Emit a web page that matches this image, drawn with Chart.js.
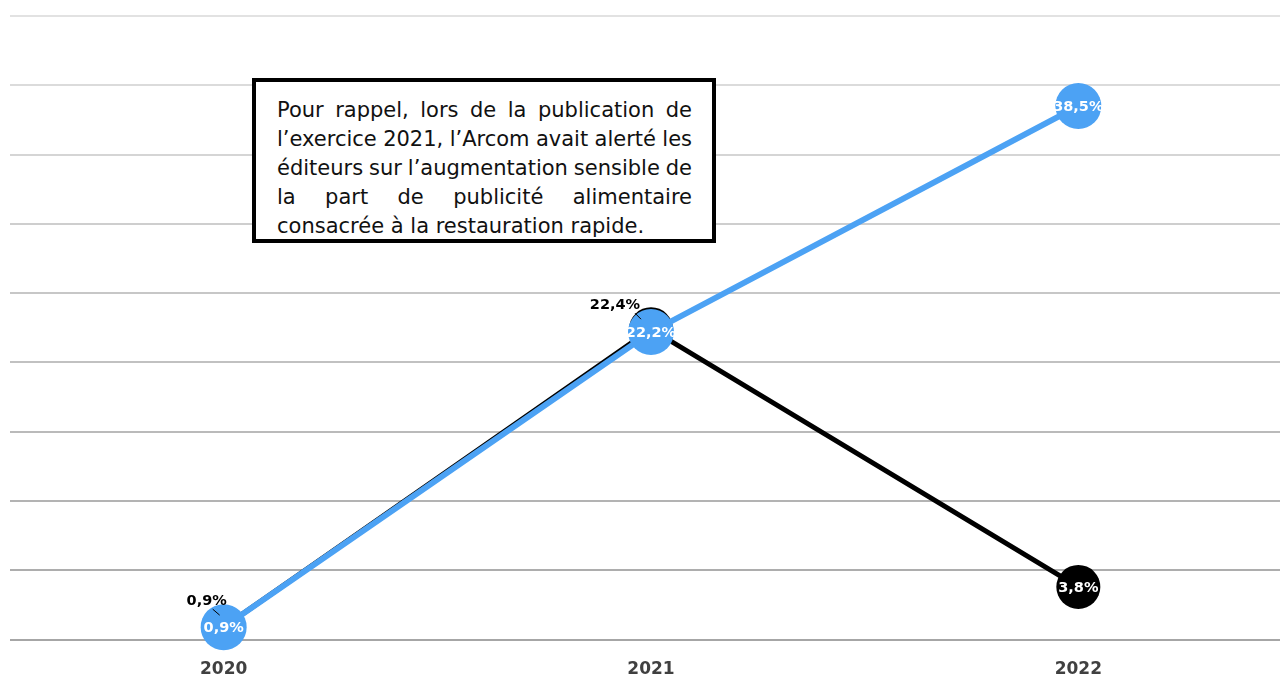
<!DOCTYPE html>
<html lang="fr">
<head>
<meta charset="utf-8">
<script src="https://cdn.jsdelivr.net/npm/chart.js@4/dist/chart.umd.min.js"></script>
<style>
html, body { margin: 0; padding: 0; background: #fff; overflow: hidden; }
#wrap { position: relative; width: 1292px; height: 678px; }
#chart { display: block; }
#note {
  position: absolute; left: 252px; top: 78px; width: 464px; height: 165px;
  box-sizing: border-box; border: 4px solid #000; background: #fff;
  padding: 14px 20px 0 21px;
  font-family: "DejaVu Sans", Verdana, sans-serif; font-size: 21px; line-height: 29px; color: #111;
  word-spacing: -4px;
}
#note span { display: block; white-space: nowrap; text-align: justify; text-align-last: justify; }
#note span.last { text-align-last: left; word-spacing: 0; }
</style>
</head>
<body>
<div id="wrap">
  <canvas id="chart" width="1292" height="678"></canvas>
  <div id="note">
    <span>Pour rappel, lors de la publication de</span>
    <span>l’exercice 2021, l’Arcom avait alerté les</span>
    <span>éditeurs sur l’augmentation sensible de</span>
    <span>la part de publicité alimentaire</span>
    <span class="last">consacrée à la restauration rapide.</span>
  </div>
</div>
<script>
/* =========================
   Données
========================= */

const years = ["2020", "2021", "2022"];
const serieNoire = [0.9, 22.4, 3.8];
const serieBleue = [0.9, 22.2, 38.5];
const yTicks = [0, 5, 10, 15, 20, 25, 30, 35, 40, 45];

const BLEU = "#4ca2f4";
const NOIR = "#000000";

function fmt(v){
  return v.toFixed(1).replace(".", ",") + "%";
}

/* étiquettes des points (dessinées à la main, pas de plugin datalabels) */
const pointLabels = {
  id: "pointLabels",
  afterDatasetsDraw(chart){
    const ctx = chart.ctx;
    ctx.save();
    ctx.textAlign = "center";
    ctx.textBaseline = "middle";
    // noire d'abord, bleue par-dessus
    [1, 0].forEach(di => {
      const ds = chart.data.datasets[di];
      const meta = chart.getDatasetMeta(di);
      meta.data.forEach((pt, i) => {
        const txt = fmt(ds.data[i]);
        const out = ds.outside ? ds.outside[i] : null;
        ctx.font = "bold 14.5px 'DejaVu Sans', sans-serif";
        if(out){
          const lx = pt.x + out[0], ly = pt.y + out[1];
          ctx.strokeStyle = "#000";
          ctx.lineWidth = 1;
          ctx.beginPath();
          ctx.moveTo(lx + out[2], ly + 8);
          ctx.lineTo(pt.x + out[3], pt.y + out[4]);
          ctx.stroke();
          ctx.fillStyle = "#000";
          ctx.fillText(txt, lx, ly);
        } else {
          ctx.fillStyle = "#fff";
          ctx.fillText(txt, pt.x, pt.y + 1);
        }
      });
    });
    ctx.restore();
  }
};

/* couleur des lignes de grille : plus claire en haut */
function gridColor(c){
  const t = c.index / (yTicks.length - 1);
  const g = Math.round(166 + (226 - 166) * t);
  return `rgb(${g},${g},${g})`;
}

new Chart(document.getElementById("chart"), {
  type: "line",
  data: {
    labels: years,
    datasets: [
      {
        label: "bleue",
        data: serieBleue,
        borderColor: BLEU,
        backgroundColor: BLEU,
        borderWidth: 6,
        pointRadius: 23,
        pointBorderWidth: 0,
        pointBackgroundColor: BLEU,
        tension: 0,
        clip: false,
        order: 0
      },
      {
        label: "noire",
        data: serieNoire,
        borderColor: NOIR,
        backgroundColor: NOIR,
        borderWidth: 5,
        pointRadius: 22,
        pointBorderWidth: 0,
        pointBackgroundColor: NOIR,
        tension: 0,
        clip: false,
        order: 1,
        // [dx, dy, départ trait x, arrivée trait dx, dy]
        outside: [[-17, -26, 6, -4, -12], [-36, -24, 20, -10, -10], null]
      }
    ]
  },
  options: {
    responsive: false,
    animation: false,
    devicePixelRatio: 1,
    layout: { autoPadding: false, padding: { left: 10, right: 0, top: 16, bottom: -22 } },
    plugins: {
      legend: { display: false },
      tooltip: { enabled: false }
    },
    scales: {
      x: {
        offset: true,
        grid: { display: false, drawTicks: false },
        border: { display: false },
        ticks: {
          padding: 20,
          color: "#404040",
          font: { family: "'DejaVu Sans', sans-serif", size: 17, weight: "bold" }
        }
      },
      y: {
        min: 0,
        max: 45,
        afterBuildTicks(axis){ axis.ticks = yTicks.map(v => ({ value: v })); },
        grid: { color: gridColor, lineWidth: 2, drawTicks: false },
        border: { display: false },
        ticks: { display: false }
      }
    }
  },
  plugins: [pointLabels]
});
</script>
</body>
</html>
